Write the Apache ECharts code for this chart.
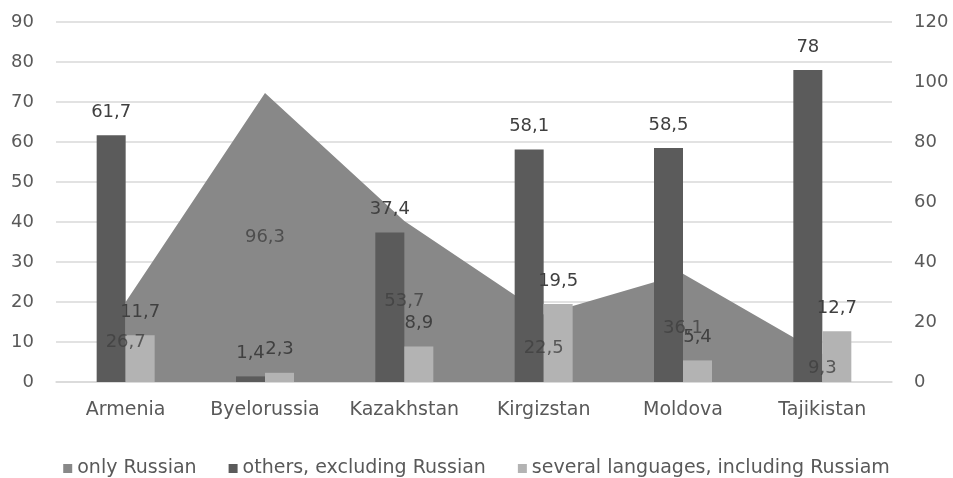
<!DOCTYPE html>
<html>
<head>
<meta charset="utf-8">
<script src="https://cdn.jsdelivr.net/npm/echarts@6/dist/echarts.min.js"></script>
<style>
  html, body { margin: 0; padding: 0; background: #fff; }
  #chart { width: 953px; height: 478px; }
</style>
</head>
<body>
<div id="chart"></div>
<script>
const countries = ['Armenia', 'Byelorussia', 'Kazakhstan', 'Kirgizstan', 'Moldova', 'Tajikistan']
const onlyRussian = [26.7, 96.3, 53.7, 22.5, 36.1, 9.3]
const othersExcl = [61.7, 1.4, 37.4, 58.1, 58.5, 78]
const severalIncl = [11.7, 2.3, 8.9, 19.5, 5.4, 12.7]
const leftTicks = [0, 90, 10]   // min, max, step
const rightTicks = [0, 120, 20]

const font = '"DejaVu Sans", sans-serif'
const comma = (v) => String(v).replace('.', ',')

const chart = echarts.init(document.getElementById('chart'))

chart.setOption({
  animation: false,
  textStyle: { fontFamily: font },
  grid: { left: 56, right: 61, top: 22, bottom: 96 },
  legend: {
    data: ['only Russian', 'others, excluding Russian', 'several languages, including Russiam'],
    top: 454,
    icon: 'rect',
    itemWidth: 9,
    itemHeight: 9,
    itemGap: 32,
    textStyle: { fontSize: 19, color: '#595959', fontFamily: font }
  },
  xAxis: {
    type: 'category',
    data: countries,
    axisLine: { lineStyle: { color: '#d9d9d9', width: 1.5 } },
    axisTick: { show: false },
    axisLabel: { fontSize: 19, color: '#595959', margin: 19, interval: 0 }
  },
  yAxis: [
    {
      type: 'value',
      min: leftTicks[0],
      max: leftTicks[1],
      interval: leftTicks[2],
      axisLabel: { fontSize: 18, color: '#595959', margin: 22 },
      splitLine: { lineStyle: { color: '#d9d9d9', width: 1.5 } }
    },
    {
      type: 'value',
      min: rightTicks[0],
      max: rightTicks[1],
      interval: rightTicks[2],
      axisLabel: { fontSize: 18, color: '#595959', margin: 22 },
      splitLine: { show: false }
    }
  ],
  series: [
    {
      name: 'only Russian',
      type: 'line',
      yAxisIndex: 1,
      data: onlyRussian,
      symbol: 'none',
      lineStyle: { width: 0 },
      itemStyle: { color: '#888888' },
      areaStyle: { color: '#888888', opacity: 1 },
      z: 1
    },
    {
      name: 'others, excluding Russian',
      type: 'bar',
      data: othersExcl,
      barWidth: 29,
      barGap: '0%',
      itemStyle: { color: '#5b5b5b' },
      label: {
        show: true,
        position: 'top',
        distance: 14,
        fontSize: 18,
        color: '#404040',
        formatter: (p) => comma(p.value)
      },
      z: 3
    },
    {
      name: 'several languages, including Russiam',
      type: 'bar',
      data: severalIncl,
      barWidth: 29,
      barGap: '0%',
      itemStyle: { color: '#b3b3b3' },
      label: {
        show: true,
        position: 'top',
        distance: 14,
        fontSize: 18,
        color: '#404040',
        formatter: (p) => comma(p.value)
      },
      z: 3
    },
    {
      // labels of the area, placed at half height like the original
      name: 'onlyRussianLabels',
      type: 'scatter',
      yAxisIndex: 1,
      data: onlyRussian.map((v) => v / 2),
      symbolSize: 1,
      itemStyle: { color: 'rgba(0,0,0,0)' },
      silent: true,
      label: {
        show: true,
        position: 'inside',
        fontSize: 18,
        color: '#404040',
        formatter: (p) => comma(onlyRussian[p.dataIndex])
      },
      z: 5
    }
  ]
})
</script>
</body>
</html>
